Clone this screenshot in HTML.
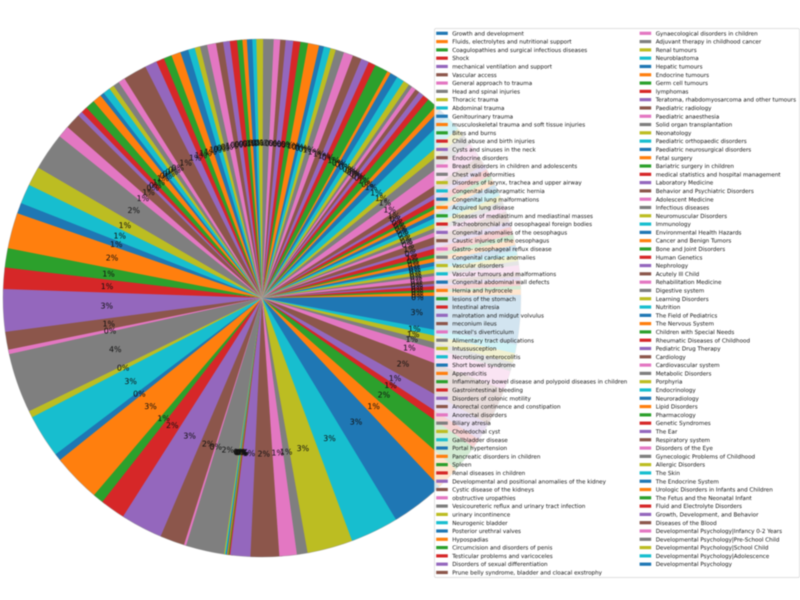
<!DOCTYPE html>
<html lang="en">
<head>
<meta charset="utf-8">
<title>Pie chart of paediatric topics</title>
<style>
  html, body { margin: 0; padding: 0; background: #fff; }
  #chart { display: block; width: 800px; height: 600px; filter: blur(0.4px); }
  text { font-family: "DejaVu Sans", "Liberation Sans", sans-serif; fill: #111; text-rendering: geometricPrecision; }
  .pct { font-size: 7.9px; }
  .leg { font-size: 5.63px; }
</style>
</head>
<body>
<svg id="chart" xmlns="http://www.w3.org/2000/svg" width="800" height="600" viewBox="0 0 800 600">
  <rect x="0" y="0" width="800" height="600" fill="#ffffff"></rect>
  <g id="slices"></g>
  <circle cx="262" cy="298" r="259" fill="none" stroke="#808080" stroke-opacity="0.45" stroke-width="0.7"></circle>
  <g id="pcts"></g>
  <rect x="434.5" y="28.5" width="365" height="549" rx="1.5" fill="#ffffff" fill-opacity="0.8" stroke="#cccccc" stroke-opacity="0.8" stroke-width="0.7"></rect>
  <g id="legend"></g>
</svg>
<script>
const categories = [
"Growth and development","Fluids, electrolytes and nutritional support","Coagulopathies and surgical infectious diseases","Shock","mechanical ventilation and support","Vascular access","General approach to trauma","Head and spinal injuries","Thoracic trauma","Abdominal trauma",
"Genitourinary trauma","musculoskeletal trauma and soft tissue injuries","Bites and burns","Child abuse and birth injuries","Cysts and sinuses in the neck","Endocrine disorders","Breast disorders in children and adolescents","Chest wall deformities","Disorders of larynx, trachea and upper airway","Congenital diaphragmatic hernia",
"Congenital lung malformations","Acquired lung disease","Diseases of mediastinum and mediastinal masses","Tracheobronchial and oesophageal foreign bodies","Congenital anomalies of the oesophagus","Caustic injuries of the oesophagus","Gastro- oesophageal reflux disease","Congenital cardiac anomalies","Vascular disorders","Vascular tumours and malformations",
"Congenital abdominal wall defects","Hernia and hydrocele","lesions of the stomach","Intestinal atresia","malrotation and midgut volvulus","meconium ileus","meckel's diverticulum","Alimentary tract duplications","Intussusception","Necrotising enterocolitis",
"Short bowel syndrome","Appendicitis","Inflammatory bowel disease and polypoid diseases in children","Gastrointestinal bleeding","Disorders of colonic motility","Anorectal continence and constipation","Anorectal disorders","Biliary atresia","Choledochal cyst","Gallbladder disease",
"Portal hypertension","Pancreatic disorders in children","Spleen","Renal diseases in children","Developmental and positional anomalies of the kidney","Cystic disease of the kidneys","obstructive uropathies","Vesicoureteric reflux and urinary tract infection","urinary incontinence","Neurogenic bladder",
"Posterior urethral valves","Hypospadias","Circumcision and disorders of penis","Testicular problems and varicoceles","Disorders of sexual differentiation","Prune belly syndrome, bladder and cloacal exstrophy",
"Gynaecological disorders in children","Adjuvant therapy in childhood cancer","Renal tumours","Neuroblastoma","Hepatic tumours","Endocrine tumours","Germ cell tumours","lymphomas","Teratoma, rhabdomyosarcoma and other tumours","Paediatric radiology",
"Paediatric anaesthesia","Solid organ transplantation","Neonatology","Paediatric orthopaedic disorders","Paediatric neurosurgical disorders","Fetal surgery","Bariatric surgery in children","medical statistics and hospital management","Laboratory Medicine","Behavior and Psychiatric Disorders",
"Adolescent Medicine","Infectious diseases","Neuromuscular Disorders","Immunology","Environmental Health Hazards","Cancer and Benign Tumors","Bone and Joint Disorders","Human Genetics","Nephrology","Acutely Ill Child",
"Rehabilitation Medicine","Digestive system","Learning Disorders","Nutrition","The Field of Pediatrics","The Nervous System","Children with Special Needs","Rheumatic Diseases of Childhood","Pediatric Drug Therapy","Cardiology",
"Cardiovascular system","Metabolic Disorders","Porphyria","Endocrinology","Neuroradiology","Lipid Disorders","Pharmacology","Genetic Syndromes","The Ear","Respiratory system",
"Disorders of the Eye","Gynecologic Problems of Childhood","Allergic Disorders","The Skin","The Endocrine System","Urologic Disorders in Infants and Children","The Fetus and the Neonatal Infant","Fluid and Electrolyte Disorders","Growth, Development, and Behavior","Diseases of the Blood",
"Developmental Psychology|Infancy 0-2 Years","Developmental Psychology|Pre-School Child","Developmental Psychology|School Child","Developmental Psychology|Adolescence","Developmental Psychology"
];
const seriesValues = [
0.7,1.2,0.8,1.2,0.8,1.0,1.6,0.9,1.3,1.0,
1.3,1.3,1.1,1.8,1.2,2.3,1.3,1.2,1.3,1.5,
1.2,1.2,1.0,1.6,1.2,2.0,3.5,2.5,1.8,3.6,
2.2,1.2,2.2,1.4,1.2,1.0,1.0,0.8,1.4,1.7,
1.7,0.8,3.0,1.6,1.8,2.0,2.1,1.9,1.2,1.5,
1.1,2.5,1.7,1.6,1.7,1.2,1.45,2.35,1.5,0.9,
1.2,1.0,1.2,1.6,1.5,1.6,2.0,1.6,1.2,1.5,
1.8,2.1,1.8,1.8,2.7,5.3,1.5,1.4,1.1,1.6,
0.9,2.0,2.1,1.4,1.1,3.5,2.7,8.4,4.3,4.4,
2.4,8.0,4.3,4.8,9.5,4.0,1.0,13.4,1.5,9.7,
1.6,10.8,2.4,5.6,9.4,5.5,0.5,8.6,0.23,0.23,
0.23,0.23,0.23,0.23,4.5,6.4,3.9,2.4,10.2,10.8,
12.1,5.3,6.2,2.1,4.0,8.4,4.3,2.0,2.1,1.9,10.4
];
const palette = ["#1f77b4","#ff7f0e","#2ca02c","#d62728","#9467bd","#8c564b","#e377c2","#7f7f7f","#bcbd22","#17becf"];

const SVG_NS = "http://www.w3.org/2000/svg";
const CX = 262, CY = 298, R = 259, PCT_DIST = 0.6;
const LEFT_ROWS = 66, ROW_H = 8.295, ROW_Y0 = 33.3;
const OVERLAP = 0.012;
const total = seriesValues.reduce(function (a, b) { return a + b; }, 0);

function angleOf(v) { return v / total * 2 * Math.PI; }
function px(a, r) { return CX + r * Math.cos(a); }
function py(a, r) { return CY - r * Math.sin(a); }
function make(tag) { return document.createElementNS(SVG_NS, tag); }

const slicesG = document.getElementById("slices");
const pctsG = document.getElementById("pcts");
const legendG = document.getElementById("legend");

let cum = 0;
seriesValues.forEach(function (v, i) {
  const a0 = angleOf(cum);
  const a1 = angleOf(cum + v);
  cum += v;
  const color = palette[i % palette.length];
  const isLast = i === seriesValues.length - 1;
  const drawEnd = isLast ? a1 : a1 + OVERLAP;

  const wedge = make("path");
  
  
  const large = (drawEnd - a0) > Math.PI ? 1 : 0;
  wedge.setAttribute("d", "M" + CX + " " + CY + "L" + px(a0, R).toFixed(3) + " " + py(a0, R).toFixed(3) +
    "A" + R + " " + R + " 0 " + large + " 0 " + px(drawEnd, R).toFixed(3) + " " + py(drawEnd, R).toFixed(3) + "Z");
  wedge.setAttribute("fill", color);
  slicesG.appendChild(wedge);

  const mid = (a0 + a1) / 2;
  const label = make("text");
  
  
  label.setAttribute("class", "pct");
  label.setAttribute("x", px(mid, R * PCT_DIST).toFixed(2));
  label.setAttribute("y", (py(mid, R * PCT_DIST) + 2.9).toFixed(2));
  label.setAttribute("text-anchor", "middle");
  label.textContent = Math.round(v / total * 100) + "%";
  pctsG.appendChild(label);

  const inLeft = i < LEFT_ROWS;
  const row = inLeft ? i : i - LEFT_ROWS;
  const rowY = ROW_Y0 + row * ROW_H;

  const swatch = make("rect");
  
  
  swatch.setAttribute("x", inLeft ? 436.2 : 639.6);
  swatch.setAttribute("y", (rowY - 1.6).toFixed(2));
  swatch.setAttribute("width", 11.6);
  swatch.setAttribute("height", 3.2);
  swatch.setAttribute("fill", color);
  legendG.appendChild(swatch);

  const entry = make("text");
  
  
  entry.setAttribute("class", "leg");
  entry.setAttribute("x", inLeft ? 452.2 : 655.7);
  entry.setAttribute("y", (rowY + 2.05).toFixed(2));
  entry.textContent = categories[i];
  legendG.appendChild(entry);
});
</script>
</body>
</html>
